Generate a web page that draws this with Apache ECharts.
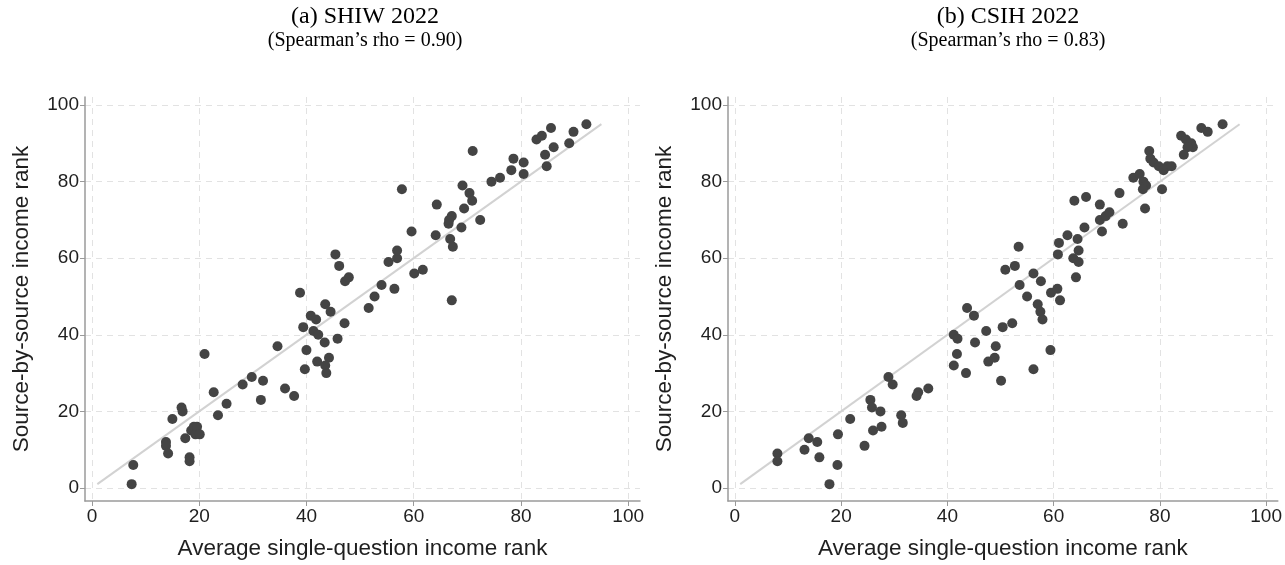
<!DOCTYPE html>
<html>
<head>
<meta charset="utf-8">
<script src="https://cdn.jsdelivr.net/npm/echarts@6/dist/echarts.min.js"></script>
<style>
html,body{margin:0;padding:0;background:#fff;}
#chart{width:1285px;height:565px;}
</style>
</head>
<body>
<div id="chart"></div>
<script>
// ---- data ----
const panelTitles = ['(a) SHIW 2022', '(b) CSIH 2022'];
const panelSubtitles = ['(Spearman\u2019s rho = 0.90)', '(Spearman\u2019s rho = 0.83)'];
const xAxisTitle = 'Average single-question income rank';
const yAxisTitle = 'Source-by-source income rank';
const tickValues = [0, 20, 40, 60, 80, 100];
const refLine = [[1, 1], [95, 95]];

const shiw = [
  [7.4,1],[7.7,6],[13.8,12],[13.8,11],[14.2,9],[15,18],[16.7,21],[16.9,20],[17.4,13],[18.2,8],
  [18.2,7],[18.5,15],[19,16],[19.6,16],[19.3,14],[20.1,14],[21,35],[22.7,25],[23.5,19],[25.1,22],
  [28.1,27],[29.8,29],[31.9,28],[31.5,23],[34.6,37],[36,26],[37.7,24],[38.8,51],[39.4,42],[40,36],
  [39.7,31],[40.8,45],[41.8,44],[41.3,41],[42.2,40],[43.4,38],[42,33],[44.2,34],[43.5,32],[43.7,30],
  [43.5,48],[44.5,46],[45.8,39],[47.1,43],[47.2,54],[47.9,55],[45.4,61],[46.1,58],[51.6,47],[52.7,50],
  [54,53],[56.4,52],[55.3,59],[56.9,60],[56.9,62],[57.8,78],[60.1,56],[61.7,57],[59.6,67],[64.1,66],
  [64.3,74],[66.5,69],[67.1,71],[66.8,65],[67.3,63],[66.6,70],[67.1,49],[68.9,68],[69.4,73],[69.1,79],
  [70.4,77],[70.9,75],[71,88],[72.4,70],[74.5,80],[76.1,81],[78.2,83],[78.6,86],[80.5,85],[80.5,82],
  [82.9,91],[83.9,92],[85.6,94],[84.5,87],[86.1,89],[84.8,84],[89,90],[89.8,93],[92.2,95]
];

const csih = [
  [8,9],[8,7],[13.1,10],[13.9,13],[15.5,12],[15.9,8],[17.8,1],[19.3,6],[19.4,14],[21.7,18],
  [24.4,11],[25.5,23],[25.8,21],[27.4,20],[26,15],[27.6,16],[28.9,29],[29.7,27],[31.3,19],[31.6,17],
  [34.5,25],[34.2,24],[36.4,26],[41.2,40],[41.9,39],[41.8,35],[41.2,32],[43.5,30],[43.7,47],[45,45],
  [45.2,38],[47.3,41],[49.1,37],[47.7,33],[48.9,34],[50.1,28],[50.4,42],[52.2,43],[53.6,53],[50.9,57],
  [52.7,58],[53.4,63],[55,50],[56.2,56],[57.6,54],[57,48],[57.5,46],[57.9,44],[59.5,51],[60.7,52],
  [61.2,49],[59.4,36],[56.2,31],[60.8,61],[61,64],[62.6,66],[64.5,65],[64.7,62],[63.7,60],[64.7,59],
  [64.2,55],[63.9,75],[66.1,76],[65.8,68],[68.7,74],[68.7,70],[69.8,71],[70.5,72],[69.1,67],[72.4,77],
  [73,69],[75,81],[76.2,82],[76.9,80],[77.4,79],[76.8,78],[77.2,73],[78,88],[78.2,86],[78.8,85],
  [79.8,84],[80.7,83],[81.4,84],[82.2,84],[80.4,78],[84,92],[84.9,91],[85.9,90],[86.2,89],[85.2,89],
  [84.5,87],[87.8,94],[89,93],[91.8,95]
];

const panelData = [shiw, csih];

// ---- chart ----
const chart = echarts.init(document.getElementById('chart'), null, {renderer: 'canvas'});
const gridLefts = [85, 728];
const gridW = 555, gridTop = 97, gridH = 406;
const axisCol = '#9a9a9a';
const gridCol = '#e2e2e2';
const textCol = '#1f1f1f';

const grids = [], xAxes = [], yAxes = [], series = [], titles = [];
for (let i = 0; i < 2; i++) {
  grids.push({left: gridLefts[i], top: gridTop, width: gridW, height: gridH, containLabel: false});
  const plotCenter = gridLefts[i] + 7 + 268;
  titles.push({
    text: panelTitles[i], subtext: panelSubtitles[i],
    left: plotCenter, top: 0, textAlign: 'center', itemGap: 2,
    textStyle: {fontFamily: 'Liberation Serif', fontSize: 24, fontWeight: 'normal', color: '#000'},
    subtextStyle: {fontFamily: 'Liberation Serif', fontSize: 20, color: '#000'}
  });
  const common = {
    axisLine: {show: true, onZero: false, lineStyle: {color: axisCol, width: 1.5}},
    axisTick: {show: true, inside: false, length: 5, lineStyle: {color: axisCol, width: 1}, customValues: tickValues},
    axisLabel: {customValues: tickValues, color: textCol, fontFamily: 'Liberation Sans', fontSize: 19, margin: 6},
    splitLine: {show: true, lineStyle: {color: gridCol, type: [6, 5], width: 1}},
    nameTextStyle: {color: textCol, fontFamily: 'Liberation Sans', fontSize: 22.5},
    nameLocation: 'middle'
  };
  xAxes.push(Object.assign({}, common, {
    type: 'value', gridIndex: i, min: -1.3, max: 102.2,
    name: xAxisTitle, nameGap: 36
  }));
  yAxes.push(Object.assign({}, common, {
    type: 'value', gridIndex: i, min: -3.4, max: 102.1,
    name: yAxisTitle, nameGap: 52
  }));
  series.push({
    type: 'line', xAxisIndex: i, yAxisIndex: i, data: refLine,
    symbol: 'none', silent: true, lineStyle: {color: '#d2d2d2', width: 2}, z: 1
  });
  series.push({
    type: 'scatter', xAxisIndex: i, yAxisIndex: i, data: panelData[i],
    symbol: 'circle', symbolSize: 10, itemStyle: {color: '#444444', opacity: 1}, z: 3
  });
}

chart.setOption({
  backgroundColor: '#ffffff',
  animation: false,
  title: titles,
  grid: grids,
  xAxis: xAxes,
  yAxis: yAxes,
  series: series
});
</script>
</body>
</html>
